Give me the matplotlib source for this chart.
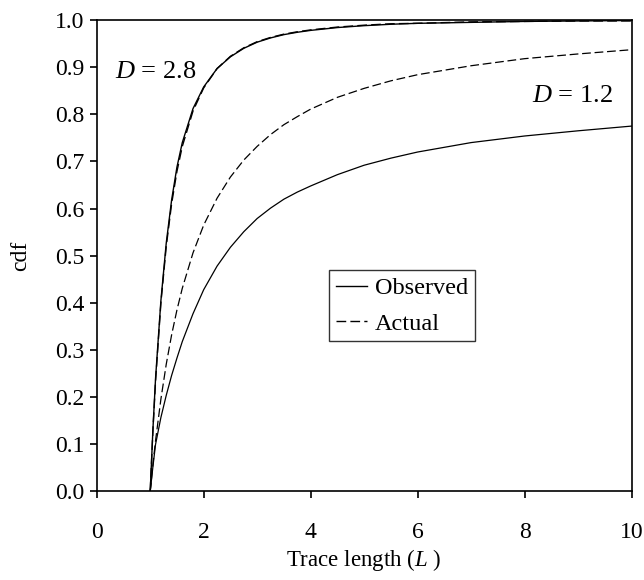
import matplotlib
matplotlib.use("Agg")
import matplotlib.pyplot as plt

plt.rcParams["font.family"] = ["Liberation Serif", "DejaVu Serif"]
plt.rcParams["mathtext.fontset"] = "custom"
plt.rcParams["mathtext.it"] = "Liberation Serif:italic"
plt.rcParams["mathtext.rm"] = "Liberation Serif"

# trace length L (sample points)
trace_len = [1.0, 1.05, 1.1, 1.2, 1.3, 1.4, 1.5, 1.6, 1.8, 2.0, 2.25, 2.5,
             2.75, 3.0, 3.25, 3.5, 3.75, 4.0, 4.5, 5.0, 5.5, 6.0, 7.0, 8.0,
             9.0, 10.0]

# D = 2.8
obs_d28 = [0.0, 0.13, 0.24, 0.405, 0.527, 0.618, 0.688, 0.740, 0.812, 0.858,
           0.897, 0.922, 0.940, 0.953, 0.962, 0.969, 0.974, 0.978, 0.984,
           0.988, 0.991, 0.993, 0.995, 0.997, 0.998, 0.999]
act_d28 = [0.0, 0.128, 0.234, 0.400, 0.520, 0.610, 0.679, 0.732, 0.807, 0.856,
           0.897, 0.923, 0.941, 0.954, 0.963, 0.970, 0.975, 0.979, 0.985,
           0.989, 0.992, 0.993, 0.996, 0.997, 0.998, 0.998]

# D = 1.2
obs_d12 = [0.0, 0.052, 0.100, 0.157, 0.204, 0.246, 0.283, 0.318, 0.377, 0.428,
           0.478, 0.518, 0.551, 0.579, 0.601, 0.620, 0.635, 0.648, 0.672,
           0.692, 0.707, 0.720, 0.740, 0.754, 0.765, 0.775]
act_d12 = [0.0, 0.057, 0.108, 0.196, 0.270, 0.332, 0.385, 0.431, 0.506, 0.565,
           0.622, 0.667, 0.703, 0.732, 0.757, 0.778, 0.795, 0.811, 0.836,
           0.855, 0.871, 0.884, 0.903, 0.918, 0.928, 0.937]

x_ticks = [0, 2, 4, 6, 8, 10]
y_ticks = [0.0, 0.1, 0.2, 0.3, 0.4, 0.5, 0.6, 0.7, 0.8, 0.9, 1.0]

fig = plt.figure(figsize=(6.44, 5.8), dpi=100)
ax = fig.add_axes([0.1502, 0.1526, 0.8304, 0.8129])

dash = (7, 3)
ax.plot(trace_len, obs_d28, color="black", lw=1.0, label="Observed")
ax.plot(trace_len, act_d28, color="black", lw=1.0, dashes=dash, label="Actual")
ax.plot(trace_len, obs_d12, color="black", lw=0.9)
ax.plot(trace_len, act_d12, color="black", lw=0.9, dashes=dash)

ax.set_xlim(0, 10)
ax.set_ylim(0, 1)
ax.set_xticks(x_ticks)
ax.set_xticklabels([str(t) for t in x_ticks])
ax.set_yticks(y_ticks)
ax.set_yticklabels([f"{t:.1f}" for t in y_ticks])
ax.tick_params(direction="out", length=5, width=1.2, labelsize=17, pad=4)
ax.tick_params(axis="x", pad=17)
for sp in ax.spines.values():
    sp.set_linewidth(1.2)

ax.set_xlabel("Trace length ($L$ )", fontsize=16.5, labelpad=3)
ax.set_ylabel("cdf", fontsize=17, labelpad=17)

ax.text(0.34, 0.877, "$D$ = 2.8", fontsize=19, va="baseline", ha="left")
ax.text(8.13, 0.827, "$D$ = 1.2", fontsize=19, va="baseline", ha="left")

leg = ax.legend(loc="upper left", bbox_to_anchor=(0.435, 0.469), fontsize=17.5,
                frameon=True, fancybox=False, borderaxespad=0, borderpad=0.28,
                handlelength=1.25, handletextpad=0.35, labelspacing=0.55)
leg.get_frame().set_edgecolor("black")
leg.get_frame().set_linewidth(1.0)

fig.savefig("out.png", dpi=100)
